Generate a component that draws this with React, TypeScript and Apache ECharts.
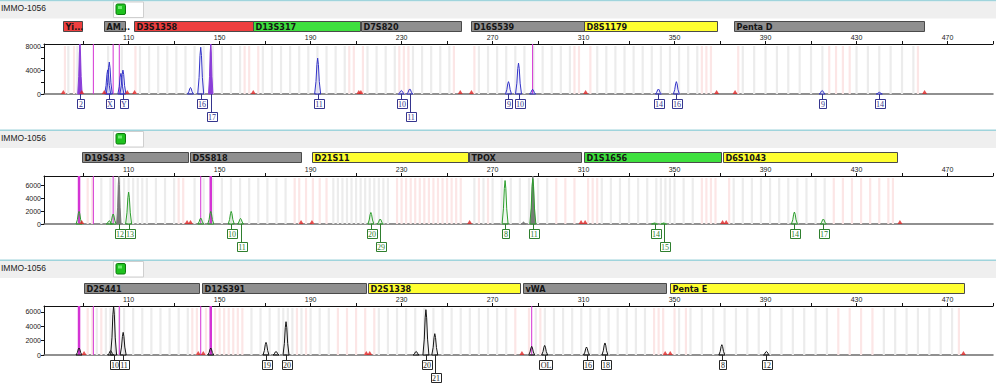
import React, { useEffect, useRef } from 'react';
import * as echarts from 'echarts';

// ---------- shared axis data ----------
const BP_MIN = 72.8;
const BP_MAX = 490;
const BP_TICKS = [90, 110, 130, 150, 170, 190, 210, 230, 250, 270, 290, 310, 330, 350, 370, 390, 410, 430, 450, 470, 490];
const BP_LABELS = [110, 150, 190, 230, 270, 310, 350, 390, 430, 470];
const SAMPLE = 'IMMO-1056';

// ---------- panel 1 (blue dye) ----------
const P1_Y_TICKS = [0, 2000, 4000, 6000, 8000];
const P1_Y_LABELS = [0, 4000, 8000];
const P1_LOCI: [number, number, string, string][] = [
  [81.2, 89.5, 'Yi...', 'fail'],
  [99.2, 108.4, 'AM...', 'none'],
  [112.3, 164.6, 'D3S1358', 'fail'],
  [164.6, 211.6, 'D13S317', 'pass'],
  [212.0, 255.9, 'D7S820', 'none'],
  [260.3, 310.4, 'D16S539', 'none'],
  [310.4, 368.8, 'D8S1179', 'check'],
  [376.3, 459.7, 'Penta D', 'none'],
];
const P1_PEAKS: [number, number][] = [
  [100.8, 4100], [101.5, 5430], [106.6, 3500], [107.5, 4060], [137.2, 1100], [141.7, 7950],
  [193.1, 6100], [229.9, 600], [233.6, 860], [277.0, 2100], [281.4, 5250], [287.6, 800],
  [342.9, 850], [350.8, 2100], [414.9, 600], [440.0, 300],
];
const P1_OFFSCALE: [number, number][] = [[88.6, 9000], [146.1, 9000]];
const P1_SIZER: number[] = [88.6, 94.5, 103.2, 105.9, 146.1, 287.6];
const P1_SIZER_STRONG: number[] = [];
const P1_FLAGS: number[] = [81.3, 89.4, 99.3, 109.4, 112.6, 164.8, 211.2, 212.1, 255.8, 260.7, 310.9, 368.5, 376.6, 459.9];
const P1_ALLELES: [number, number, string][] = [
  [88.6, 0, '2'], [101.5, 0, 'X'], [107.5, 0, 'Y'], [141.7, 0, '16'], [146.1, 1, '17'],
  [193.1, 0, '11'], [229.9, 0, '10'], [233.6, 1, '11'], [277.0, 0, '9'], [281.4, 0, '10'],
  [342.9, 0, '14'], [350.8, 0, '16'], [414.9, 0, '9'], [440.0, 0, '14'],
];
const P1_BINS: number[] = [83.5, 87.5, 101, 107, 115, 119, 123, 127, 131, 135, 139, 143, 147, 151, 155, 159, 169, 173, 177, 181, 185, 189, 193, 197, 201, 205, 215, 219, 223, 227, 235, 239, 243, 247, 251, 264, 268, 272, 276, 280, 284, 288, 292, 296, 300, 304, 316, 320, 324, 328, 332, 336, 340, 344, 348, 352, 356, 360, 380, 385, 390, 395, 400, 405, 410, 415, 430, 435, 440, 445, 450, 455];
const P1_VBINS: number[] = [82, 86, 113, 161, 163, 167, 207, 209, 213, 229, 231, 233, 253, 262, 306, 308, 313, 362, 364, 366, 378, 418, 421, 424, 427, 457];

// ---------- panel 2 (green dye) ----------
const P2_Y_TICKS = [0, 2000, 4000, 6000];
const P2_Y_LABELS = [0, 2000, 4000, 6000];
const P2_LOCI: [number, number, string, string][] = [
  [89.4, 135.9, 'D19S433', 'none'],
  [137.2, 186.0, 'D5S818', 'none'],
  [190.8, 259.5, 'D21S11', 'check'],
  [259.5, 308.7, 'TPOX', 'none'],
  [310.0, 370.2, 'D1S1656', 'pass'],
  [371.5, 447.9, 'D6S1043', 'check'],
];
const P2_PEAKS: [number, number][] = [
  [88.2, 1940], [101.5, 500], [103.2, 1540], [110.0, 4920], [141.7, 920], [146.1, 1940],
  [155.1, 1940], [159.2, 860], [216.5, 1780], [220.6, 770], [275.5, 6700], [287.7, 7000],
  [341.2, 150], [345.2, 150], [402.7, 1850], [415.4, 770],
];
const P2_OTHER: [number, number][] = [[105.7, 7600], [283.6, 300], [287.7, 7600]];
const P2_SIZER: number[] = [94.5, 103.2, 141.7];
const P2_SIZER_STRONG: number[] = [88.2, 146.1];
const P2_FLAGS: number[] = [89.4, 135.7, 137.2, 185.8, 190.6, 259.9, 308.9, 310.7, 371.1, 372.7, 449.1];
const P2_ALLELES: [number, number, string][] = [
  [105.7, 0, '12'], [110.0, 0, '13'], [155.1, 0, '10'], [159.2, 1, '11'], [216.5, 0, '20'],
  [220.6, 1, '29'], [275.5, 0, '8'], [287.7, 0, '11'], [341.2, 0, '14'], [345.2, 1, '15'],
  [402.7, 0, '14'], [415.4, 0, '17'],
];
const P2_BINS: number[] = [98, 102, 104, 106, 108, 110, 112, 114, 116, 118, 122, 126, 130, 139, 143, 147, 151, 155, 159, 163, 167, 171, 175, 179, 200, 202, 204, 206, 208, 210, 212, 214, 216, 218, 220, 222, 224, 262, 266, 270, 274, 278, 282, 286, 290, 294, 318, 322, 326, 330, 334, 338, 342, 344, 346, 348, 350, 354, 358, 376, 380, 384, 388, 392, 396, 400, 404, 408, 412, 416];
const P2_VBINS: number[] = [92, 94, 132, 134, 183, 185, 188, 191, 194, 197, 228, 230, 232, 234, 236, 238, 240, 242, 244, 246, 248, 250, 252, 254, 256, 264, 268, 298, 302, 306, 312, 314, 316, 362, 364, 366, 368, 374, 420, 424, 428, 432, 436, 440, 444, 446];

// ---------- panel 3 (black dye) ----------
const P3_Y_TICKS = [0, 2000, 4000, 6000];
const P3_Y_LABELS = [0, 2000, 4000, 6000];
const P3_LOCI: [number, number, string, string][] = [
  [90.4, 140.9, 'D2S441', 'none'],
  [142.2, 214.4, 'D12S391', 'none'],
  [215.3, 282.2, 'D2S1338', 'check'],
  [283.2, 346.1, 'vWA', 'none'],
  [347.8, 477.1, 'Penta E', 'check'],
];
const P3_PEAKS: [number, number][] = [
  [88.2, 970], [102.1, 600], [103.4, 6800], [107.6, 3140], [146.1, 970], [170.4, 1750],
  [174.8, 500], [179.2, 4620], [236.4, 500], [240.7, 6290], [244.6, 2960], [287.2, 1200],
  [292.9, 1330], [311.3, 1110], [319.4, 1670], [370.8, 1430], [390.4, 500],
];
const P3_SIZER: number[] = [94.5, 105.9, 141.7, 287.2];
const P3_SIZER_STRONG: number[] = [88.2, 146.1];
const P3_FLAGS: number[] = [90.4, 140.6, 142.8, 214.5, 216.0, 282.9, 345.9, 348.1, 477.0];
const P3_ALLELES: [number, number, string][] = [
  [103.4, 0, '10'], [107.6, 0, '11'], [170.4, 0, '19'], [179.2, 0, '20'], [240.7, 0, '20'],
  [244.6, 1, '21'], [292.9, 0, 'OL'], [311.3, 0, '16'], [319.4, 0, '18'], [370.8, 0, '8'],
  [390.4, 0, '12'],
];
const P3_BINS: number[] = [96, 100, 102, 104, 106, 108, 112, 116, 120, 124, 128, 132, 136, 164, 168, 172, 176, 178, 180, 182, 186, 190, 194, 198, 220, 224, 228, 232, 236, 240, 244, 248, 252, 256, 260, 264, 268, 272, 276, 289, 293, 297, 301, 305, 309, 313, 317, 321, 325, 329, 333, 337, 352, 357, 362, 367, 372, 377, 382, 387, 392, 397, 402, 407, 412, 417, 442, 447, 452, 457, 462, 467, 472];
const P3_VBINS: number[] = [92, 94, 98, 138, 140, 144, 148, 150, 152, 154, 156, 158, 160, 184, 188, 202, 206, 210, 214, 218, 280, 286, 291, 341, 343, 345, 350, 355, 422, 427, 432, 437, 475];

const LOCUS_FILL: Record<string, string> = { fail: '#ee3f3f', pass: '#3ee03e', none: '#8f8f8f', check: '#ffff30' };

const PANELS = [
  { headerTop: 0, lociTop: 21, plotTop: 44, plotH: 50, ymax: 8500, yTicks: P1_Y_TICKS, yLabels: P1_Y_LABELS,
    loci: P1_LOCI, peaks: P1_PEAKS, other: P1_OFFSCALE, otherColor: '#8a3ed8', sizer: P1_SIZER, sizerStrong: P1_SIZER_STRONG,
    flags: P1_FLAGS, alleles: P1_ALLELES, bins: P1_BINS, vbins: P1_VBINS, dye: '#3434c8', dyeFill: 'rgba(70,70,220,0.08)', tag: '#35358e' },
  { headerTop: 129.5, lociTop: 152, plotTop: 176, plotH: 48, ymax: 7400, yTicks: P2_Y_TICKS, yLabels: P2_Y_LABELS,
    loci: P2_LOCI, peaks: P2_PEAKS, other: P2_OTHER, otherColor: '#7a7a7a', sizer: P2_SIZER, sizerStrong: P2_SIZER_STRONG,
    flags: P2_FLAGS, alleles: P2_ALLELES, bins: P2_BINS, vbins: P2_VBINS, dye: '#2c9e2c', dyeFill: 'rgba(60,170,60,0.08)', tag: '#2f7f2f' },
  { headerTop: 259.5, lociTop: 283, plotTop: 306, plotH: 49, ymax: 6800, yTicks: P3_Y_TICKS, yLabels: P3_Y_LABELS,
    loci: P3_LOCI, peaks: P3_PEAKS, other: [] as [number, number][], otherColor: '#7a7a7a', sizer: P3_SIZER, sizerStrong: P3_SIZER_STRONG,
    flags: P3_FLAGS, alleles: P3_ALLELES, bins: P3_BINS, vbins: P3_VBINS, dye: '#151515', dyeFill: 'rgba(40,40,40,0.06)', tag: '#262626' },
];

const GRID_LEFT = 44;
const GRID_W = 949;

function peakRenderer(ymax: number, stroke: string, fill: string, hw: number) {
  return (params: any, api: any) => {
    const bp = api.value(0);
    const h = Math.min(api.value(1), ymax);
    const b = api.coord([bp, 0]);
    const t = api.coord([bp, h]);
    const dy = b[1] - t[1];
    const x = b[0];
    const pts = [
      [x - hw, b[1]], [x - hw * 0.55, b[1] - dy * 0.35], [x - hw * 0.25, b[1] - dy * 0.82],
      [x, t[1]], [x + hw * 0.25, b[1] - dy * 0.82], [x + hw * 0.55, b[1] - dy * 0.35], [x + hw, b[1]],
    ];
    return { type: 'polygon', shape: { points: pts }, style: { stroke, fill, lineWidth: 1 } };
  };
}

function binRenderer(ymax: number, fill: string) {
  return (params: any, api: any) => {
    const bp = api.value(0);
    const b = api.coord([bp, 0]);
    const t = api.coord([bp, ymax]);
    return { type: 'rect', shape: { x: b[0] - 1.1, y: t[1] + 2, width: 2.2, height: b[1] - t[1] - 2 }, style: { fill } };
  };
}

function sizerRenderer(ymax: number, width: number) {
  return (params: any, api: any) => {
    const bp = api.value(0);
    const b = api.coord([bp, 0]);
    const t = api.coord([bp, ymax]);
    return { type: 'line', shape: { x1: b[0], y1: b[1], x2: b[0], y2: t[1] }, style: { stroke: '#d433d4', lineWidth: width } };
  };
}

function alleleRenderer(list: [number, number, string][], color: string) {
  return (params: any, api: any) => {
    const item = list[params.dataIndex];
    const txt = item[2];
    const b = api.coord([item[0], 0]);
    const x = Math.round(b[0]) + 0.5;
    const top = Math.round(b[1]) + (item[1] ? 18 : 5) + 0.5;
    let w = 2;
    for (const ch of txt) w += /[0-9]/.test(ch) ? 4 : 5.5;
    w = Math.max(7, Math.round(w));
    const h = 9;
    return {
      type: 'group',
      children: [
        { type: 'line', shape: { x1: x, y1: b[1], x2: x, y2: top }, style: { stroke: color, lineWidth: 1 } },
        { type: 'rect', shape: { x: Math.round(x - w / 2) + 0.5, y: top, width: w, height: h }, style: { fill: '#ffffff', stroke: color, lineWidth: 1 } },
        { type: 'text', style: { text: txt, x: x + 0.5, y: top + h / 2 + 0.5, align: 'center', verticalAlign: 'middle', textAlign: 'center', textVerticalAlign: 'middle', fontSize: 8, fontFamily: '"Liberation Serif", serif', fill: color } },
      ],
    };
  };
}

function locusRenderer(list: [number, number, string, string][]) {
  return (params: any, api: any) => {
    const item = list[params.dataIndex];
    const p0 = api.coord([item[0], 0]);
    const p1 = api.coord([item[1], 1]);
    const x = Math.round(p0[0]) + 0.5;
    const y = Math.round(p1[1]) + 0.5;
    const w = Math.round(p1[0] - p0[0]);
    const h = Math.round(p0[1] - p1[1]);
    return {
      type: 'group',
      children: [
        { type: 'rect', shape: { x, y, width: w, height: h }, style: { fill: LOCUS_FILL[item[3]], stroke: '#4a4a4a', lineWidth: 1 } },
        { type: 'text', style: { text: item[2], x: x + 2, y: y + h / 2 + 0.5, align: 'left', verticalAlign: 'middle', textAlign: 'left', textVerticalAlign: 'middle', fontSize: 9, fontWeight: 'bold', fontFamily: '"Liberation Sans Narrow", "Arial Narrow", "DejaVu Sans Condensed", sans-serif', fill: '#151515' } },
      ],
    };
  };
}

function buildOption() {
  const grid: any[] = [];
  const xAxis: any[] = [];
  const yAxis: any[] = [];
  const series: any[] = [];
  const graphic: any[] = [];
  const axisFont = { fontSize: 7, fontFamily: 'Arial, "Liberation Sans", sans-serif', color: '#222' };
  const plain = (v: number) => String(v);

  PANELS.forEach((p) => {
    const gPlot = grid.length;
    grid.push({ left: GRID_LEFT, width: GRID_W, top: p.plotTop, height: p.plotH });
    const gLoci = grid.length;
    grid.push({ left: GRID_LEFT, width: GRID_W, top: p.lociTop, height: 10 });

    const xTop = xAxis.length;
    xAxis.push({
      type: 'value', gridIndex: gPlot, position: 'top', min: BP_MIN, max: BP_MAX,
      axisLine: { show: true, onZero: false, lineStyle: { color: '#111', width: 1 } },
      axisTick: { show: true, length: 3, customValues: BP_TICKS, lineStyle: { color: '#111' } },
      axisLabel: { show: true, margin: 3, customValues: BP_LABELS, formatter: plain, ...axisFont },
      splitLine: { show: false },
    });
    xAxis.push({
      type: 'value', gridIndex: gPlot, position: 'bottom', min: BP_MIN, max: BP_MAX,
      axisLine: { show: true, onZero: false, lineStyle: { color: '#6c6c6c', width: 1.5 } },
      axisTick: { show: false }, axisLabel: { show: false }, splitLine: { show: false },
    });
    const xLoci = xAxis.length;
    xAxis.push({ type: 'value', gridIndex: gLoci, min: BP_MIN, max: BP_MAX, show: false });

    const yPlot = yAxis.length;
    yAxis.push({
      type: 'value', gridIndex: gPlot, min: 0, max: p.ymax,
      axisLine: { show: true, onZero: false, lineStyle: { color: '#111', width: 1 } },
      axisTick: { show: true, length: 3, customValues: p.yTicks, lineStyle: { color: '#111' } },
      axisLabel: { show: true, margin: 3, customValues: p.yLabels, formatter: plain, ...axisFont },
      splitLine: { show: false },
    });
    const yLoci = yAxis.length;
    yAxis.push({ type: 'value', gridIndex: gLoci, min: 0, max: 1, show: false });

    const onPlot = { xAxisIndex: xTop, yAxisIndex: yPlot };

    series.push({ type: 'custom', ...onPlot, z: 1, silent: true, clip: true,
      data: p.bins.map((v) => [v, 0]), renderItem: binRenderer(p.ymax, '#ececec') });
    series.push({ type: 'custom', ...onPlot, z: 1, silent: true, clip: true,
      data: p.vbins.map((v) => [v, 0]), renderItem: binRenderer(p.ymax, '#fce6e6') });
    series.push({ type: 'custom', ...onPlot, z: 2, silent: true,
      data: p.sizer.map((v) => [v, 0]), renderItem: sizerRenderer(p.ymax, 1) });
    series.push({ type: 'custom', ...onPlot, z: 2, silent: true,
      data: p.sizerStrong.map((v) => [v, 0]), renderItem: sizerRenderer(p.ymax, 2.5) });
    series.push({ type: 'custom', ...onPlot, z: 3, silent: true,
      data: p.other, renderItem: peakRenderer(p.ymax, p.otherColor, p.otherColor, 2.2) });
    series.push({ type: 'custom', ...onPlot, z: 4, silent: true,
      data: p.peaks, renderItem: peakRenderer(p.ymax, p.dye, p.dyeFill, 3) });
    series.push({ type: 'scatter', ...onPlot, z: 5, silent: true, symbol: 'triangle', symbolSize: [5, 4], symbolOffset: [0, -2],
      itemStyle: { color: '#e02424' }, data: p.flags.map((v) => [v, 0]) });
    series.push({ type: 'custom', ...onPlot, z: 6, silent: true, clip: false,
      data: p.alleles.map((a) => [a[0], a[1]]), renderItem: alleleRenderer(p.alleles, p.tag) });
    series.push({ type: 'custom', xAxisIndex: xLoci, yAxisIndex: yLoci, z: 6, silent: true,
      data: p.loci.map((l) => [l[0], l[1]]), renderItem: locusRenderer(p.loci) });

    const ht = p.headerTop;
    graphic.push(
      { type: 'rect', silent: true, shape: { x: 0, y: ht, width: 996, height: 1.5 }, style: { fill: '#9fd4dc' } },
      { type: 'rect', silent: true, shape: { x: 0, y: ht + 1.5, width: 996, height: 17 }, style: { fill: '#efefef' } },
      { type: 'text', silent: true, style: { text: SAMPLE, x: 1, y: ht + 8, verticalAlign: 'middle', textVerticalAlign: 'middle', fontSize: 8.5, fontFamily: 'Arial, "Liberation Sans", sans-serif', fill: '#222' } },
      { type: 'rect', silent: true, shape: { x: 113.5, y: ht + 2, width: 30, height: 15.5 }, style: { fill: '#ffffff', stroke: '#cfcfcf', lineWidth: 1 } },
      { type: 'rect', silent: true, shape: { x: 116, y: ht + 4, width: 9.5, height: 10.5, r: 1.5 }, style: { fill: '#1fc21f', stroke: '#0f7a0f', lineWidth: 1 } },
      { type: 'rect', silent: true, shape: { x: 118, y: ht + 6, width: 4, height: 3 }, style: { fill: '#6fea6f' } },
    );
  });

  return { animation: false, backgroundColor: '#ffffff', grid, xAxis, yAxis, series, graphic };
}

export default function App() {
  const ref = useRef<HTMLDivElement>(null);
  useEffect(() => {
    if (!ref.current) return;
    const chart = echarts.init(ref.current, undefined, { renderer: 'svg' });
    chart.setOption(buildOption() as any);
    return () => chart.dispose();
  }, []);
  return <div ref={ref} style={{ position: 'absolute', left: 0, top: 0, width: 1000, height: 385 }} />;
}
